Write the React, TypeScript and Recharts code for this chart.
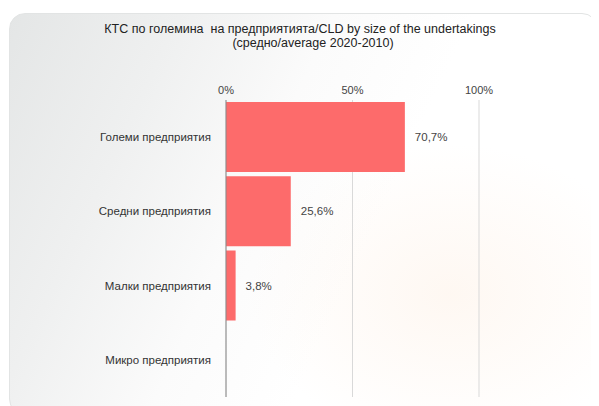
import { BarChart, Bar, XAxis, YAxis, CartesianGrid, LabelList } from 'recharts'

const categories = [
  'Големи предприятия',
  'Средни предприятия',
  'Малки предприятия',
  'Микро предприятия',
]
const shares: (number | null)[] = [70.7, 25.6, 3.8, null]
const ticks = [0, 50, 100]

const data = categories.map((name, i) => ({ name, value: shares[i] }))

const fmtPct = (v: unknown) =>
  v == null || v === '' ? '' : `${String(v).replace('.', ',')}%`

const font = 'Arial, "Liberation Sans", sans-serif'

export default function App() {
  return (
    <div
      style={{
        position: 'relative',
        width: 599,
        height: 406,
        margin: '-8px 0 0 -8px',
        overflow: 'hidden',
        background: '#fff',
        fontFamily: font,
      }}
    >
      <div
        style={{
          position: 'absolute',
          left: 9,
          top: 13,
          width: 587,
          height: 400,
          borderRadius: 16,
          border: '1px solid #e2e4e4',
          background:
            'radial-gradient(ellipse 200px 150px at 440px 280px, rgba(252,222,196,0.22), rgba(255,255,255,0) 100%), linear-gradient(115deg, #e4e6e6 0%, #eff0f0 22%, #fbfbfb 42%, #ffffff 60%)',
        }}
      />
      <div
        style={{
          position: 'absolute',
          left: 0,
          top: 22,
          width: 600,
          textAlign: 'center',
          fontSize: 12.5,
          lineHeight: '14px',
          color: '#222',
        }}
      >
        <div>КТС по големина&nbsp; на предприятията/CLD by size of the undertakings</div>
        <div style={{ paddingLeft: 26 }}>(средно/average 2020-2010)</div>
      </div>
      <div style={{ position: 'absolute', left: 0, top: 0 }}>
        <BarChart
          width={599}
          height={406}
          data={data}
          layout='vertical'
          margin={{ top: 70, right: 120, bottom: 9, left: 0 }}
          barCategoryGap={2}
        >
          <CartesianGrid
            horizontal={false}
            stroke='#d9d9d9'
            strokeWidth={1}
          />
          <XAxis
            type='number'
            orientation='top'
            domain={[0, 100]}
            ticks={ticks}
            tickFormatter={(v) => `${v}%`}
            height={30}
            axisLine={false}
            tickLine={false}
            tickMargin={0}
            tick={{ fontSize: 11, fill: '#444', fontFamily: font }}
          />
          <YAxis
            type='category'
            dataKey='name'
            width={226}
            axisLine={{ stroke: '#8a8a8a' }}
            tickLine={false}
            tickMargin={9}
            tick={{ fontSize: 11.5, fill: '#333', fontFamily: font }}
          />
          <Bar dataKey='value' fill='#fd6b6b' isAnimationActive={false}>
            <LabelList
              dataKey='value'
              position='right'
              offset={10}
              formatter={fmtPct}
              style={{ fontSize: 11.5, fill: '#444', fontFamily: font }}
            />
          </Bar>
        </BarChart>
      </div>
    </div>
  )
}
